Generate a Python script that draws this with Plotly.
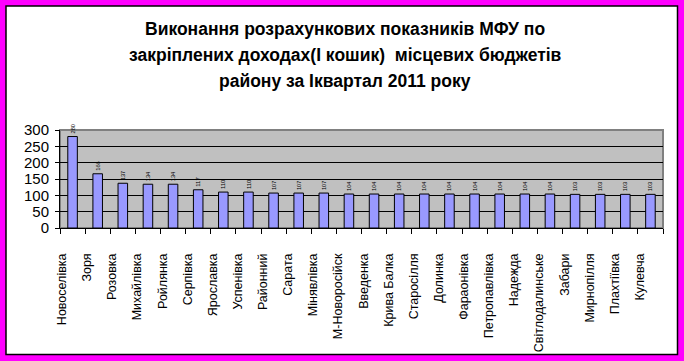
import plotly.graph_objects as go

categories = ["Новоселівка", "Зоря", "Розовка", "Михайлівка", "Ройлянка", "Серпівка",
              "Ярославка", "Успенівка", "Районний", "Сарата", "Мінявлівка", "М-Новоросійск",
              "Введенка", "Крива Балка", "Старосілля", "Долинка", "Фараонівка", "Петропавлівка",
              "Надежда", "Світлодалинське", "Забари", "Мирнопілля", "Плахтіївка", "Кулевча"]
values = [280, 166, 137, 134, 134, 117, 110, 110, 107, 107, 107, 104,
          104, 104, 104, 104, 104, 104, 104, 104, 103, 103, 103, 103]
y_ticks = [0, 50, 100, 150, 200, 250, 300]
title_lines = ["Виконання розрахункових показників МФУ по",
               "закріплених доходах(І кошик)  місцевих бюджетів",
               "району за Іквартал 2011 року"]

W, H = 684, 361
L, R, T, B = 60, 21, 130, 133
pw = W - L - R
ph = H - T - B

def px_x(px):
    return (px - L) / pw

def px_y(py):
    return (H - B - py) / ph

fig = go.Figure()
fig.add_trace(go.Bar(
    x=categories, y=values,
    marker=dict(color="#9999FF", line=dict(color="black", width=1)),
    texttemplate="%{y}", textposition="outside", textangle=-90,
    textfont=dict(size=7, color="black", family="Arial"),
    cliponaxis=False, width=0.38,
))
fig.add_trace(go.Scatter(x=[0], y=[0], xaxis="x2", mode="markers",
                         marker=dict(opacity=0), showlegend=False, hoverinfo="skip"))

shapes = [
    dict(type="rect", xref="paper", yref="paper", layer="below",
         x0=px_x(6), x1=px_x(677.5), y0=px_y(354.5), y1=px_y(6),
         fillcolor="white", line=dict(color="black", width=1.5)),
    dict(type="rect", xref="paper", yref="paper", layer="below",
         x0=0, x1=1, y0=0, y1=1,
         fillcolor="#C0C0C0", line=dict(color="#808080", width=2)),
]

annotations = []
for i, (line, py) in enumerate(zip(title_lines, [29, 55, 81])):
    annotations.append(dict(text="<b>" + line + "</b>", xref="paper", yref="paper",
                            x=px_x(345), y=px_y(py), xanchor="center", yanchor="middle",
                            showarrow=False,
                            font=dict(family="Arial", size=17.5, color="black")))

fig.update_layout(
    width=W, height=H, autosize=False,
    margin=dict(l=L, r=R, t=T, b=B, pad=0, autoexpand=False),
    paper_bgcolor="#FF00FF", plot_bgcolor="rgba(0,0,0,0)",
    showlegend=False, bargap=0.6,
    shapes=shapes, annotations=annotations,
    xaxis=dict(type="category", range=[-0.5, 23.5], showticklabels=False,
               ticks="outside", tickson="boundaries", ticklen=5, tickcolor="black",
               showline=True, linecolor="black", linewidth=1, showgrid=False,
               zeroline=False),
    xaxis2=dict(overlaying="x", anchor="y", side="bottom", range=[-0.5, 23.5],
                tickvals=[i - 0.42 for i in range(len(categories))], ticktext=categories,
                tickangle=-90, ticks="", showgrid=False, showline=False, zeroline=False,
                ticklabelstandoff=22,
                tickfont=dict(family="Arial", size=12.5, color="black")),
    yaxis=dict(range=[0, 300], tickvals=y_ticks, ticks="outside", ticklen=4,
               tickcolor="black", showline=True, linecolor="black", linewidth=1,
               showgrid=True, gridcolor="black", gridwidth=1, zeroline=False,
               tickfont=dict(family="Arial", size=15, color="black"),
               ticklabelstandoff=3),
)

fig.write_html("out.html", config={"displayModeBar": False},
               post_script="document.body.style.margin='0px';")
